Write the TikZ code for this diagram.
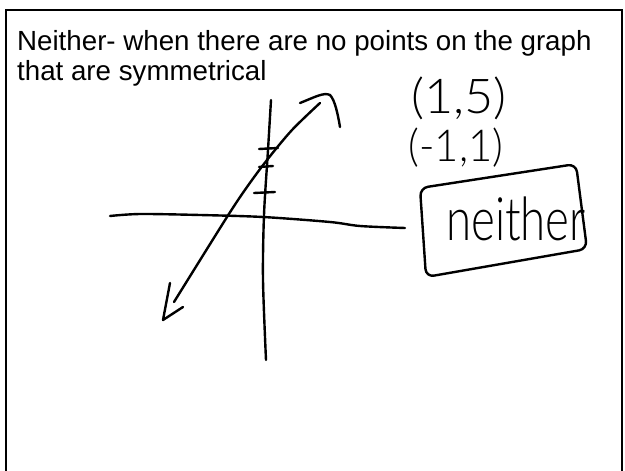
\documentclass[tikz,border=0pt]{standalone}
\usepackage{fontspec}
\setmainfont{Liberation Sans}
\newfontfamily\hand{Lato Light}
\begin{document}
\begin{tikzpicture}[x=1pt,y=-1pt,
  ink/.style={line width=2.4pt,line cap=round,line join=round},
  frame/.style={line width=2pt},
  printed/.style={anchor=base west,inner sep=0pt,font=\fontsize{27.7}{31}\selectfont},
  handtext/.style={anchor=base,inner sep=0pt}]
\useasboundingbox (0,0) rectangle (625,471);
\fill[white] (0,0) rectangle (625,471);
% frame
\draw[frame] (5.5,490) -- (5.5,9.5) -- (621.5,9.5) -- (621.5,490);
% printed text
\node[printed] (t1) at (17,50) {Neither- when there are no points on the graph};
\node[printed] (t2) at (17,81) {that are symmetrical};
% axes
\draw[ink] plot[smooth] coordinates {(271,100) (268,150) (264,215) (263,280) (266,360)};
\draw[ink] plot[smooth] coordinates {(110,216) (140,214) (200,215) (263,217) (330,222) (360,226) (405,228)};
% ticks
\draw[ink] (259,149) -- (278,148);
\draw[ink] (259,167) -- (273,166);
\draw[ink] (254,193) -- (275,192);
% line with arrows
\draw[ink] plot[smooth] coordinates {(174,302) (227,217) (247,187) (267,160) (292,130) (320,103)};
\draw[ink] (170,283) -- (163,320) -- (183,307);
\draw[ink] (300,103) .. controls (315,97) and (324,92) .. (330,95) .. controls (335,100) and (338,115) .. (340,127);
% handwritten points
\node[handtext,font={\hand\fontsize{48}{48}\selectfont},xscale=1.05] (p1) at (459,113) {(1,5)};
\node[handtext,font={\hand\fontsize{44}{44}\selectfont},xscale=0.95] (p2) at (456,161) {(-1,1)};
% neither box
\draw[ink,rounded corners=8pt] (420,188) -- (576,164) -- (587,249) -- (426,277) -- cycle;
\node[handtext,font={\hand\fontsize{60}{60}\selectfont},xscale=0.76] (nb) at (516,240) {neither};
\end{tikzpicture}
\end{document}
